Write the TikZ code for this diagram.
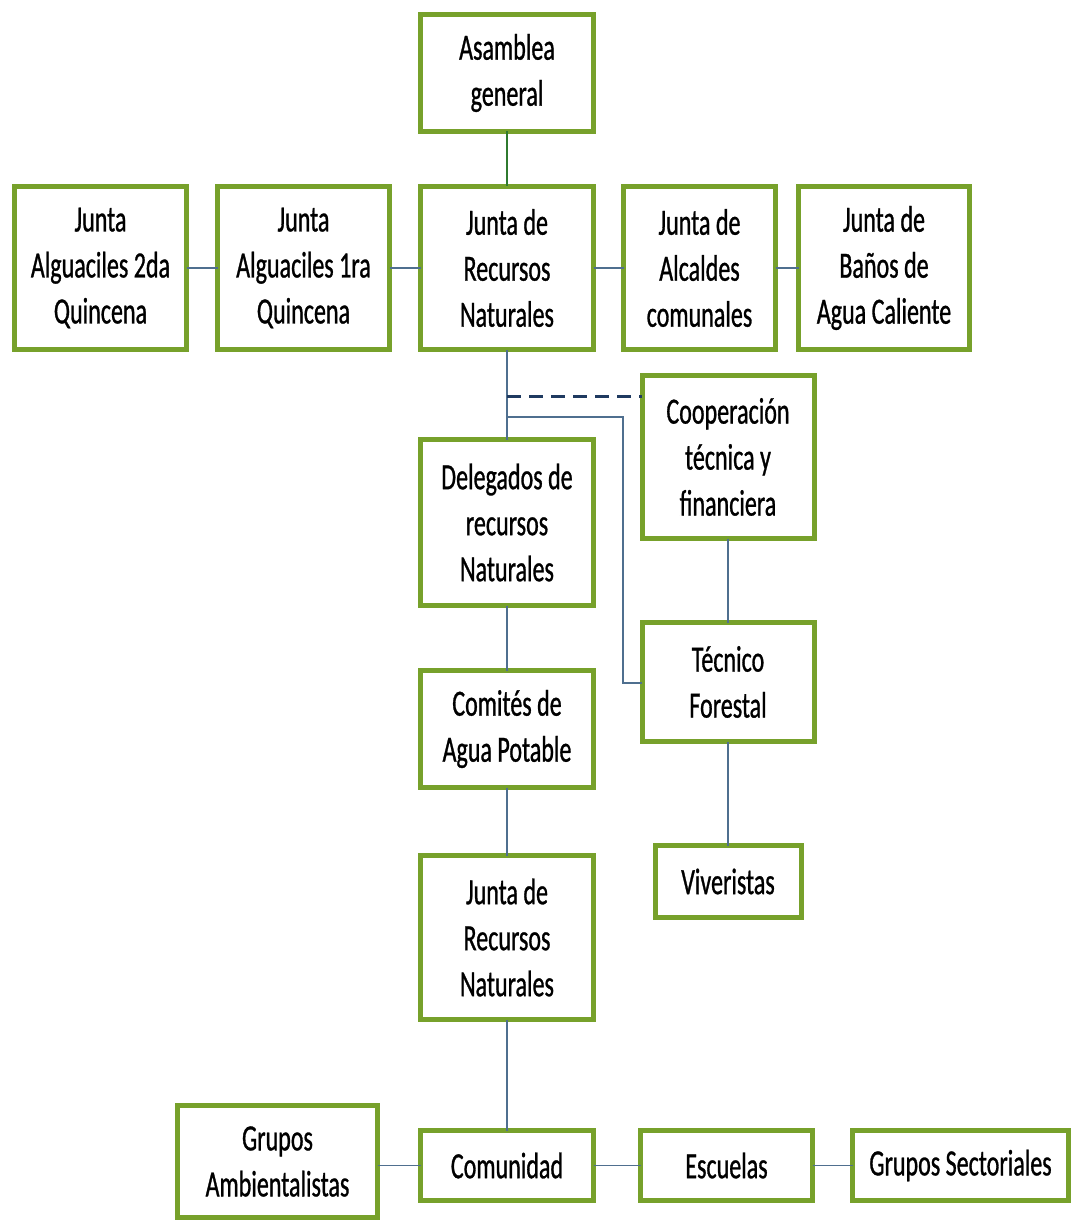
\documentclass[tikz,border=0pt]{standalone}
\usepackage{fontspec}
\setmainfont[FakeStretch=0.65,FakeBold=0.8]{Carlito}
\definecolor{boxgreen}{HTML}{77A12B}
\definecolor{linkblue}{HTML}{4F6F8F}
\definecolor{linkgreen}{HTML}{2F7A2F}
\definecolor{navy}{HTML}{1F3A60}
\tikzset{
  box/.style={draw=boxgreen, line width=5pt, fill=white, inner sep=0pt, outer sep=0pt,
    align=center, font=\fontsize{37}{46}\selectfont},
  link/.style={draw=linkblue, line width=1.8pt},
}
\begin{document}
\begin{tikzpicture}[x=1pt,y=-1pt]
\useasboundingbox (0,0) rectangle (1073,1222);
% nodes
\node[box, minimum width=173pt, minimum height=117pt] (asam) at (507,73) {Asamblea\\general};
\node[box, minimum width=172pt, minimum height=163pt] (ja2) at (100.5,268) {Junta\\Alguaciles 2da\\Quincena};
\node[box, minimum width=172pt, minimum height=163pt] (ja1) at (303.5,268) {Junta\\Alguaciles 1ra\\Quincena};
\node[box, minimum width=173pt, minimum height=163pt] (jrn) at (507,268) {Junta de\\Recursos\\Naturales};
\node[box, minimum width=152pt, minimum height=163pt] (jal) at (699.5,268) {Junta de\\Alcaldes\\comunales};
\node[box, minimum width=171pt, minimum height=163pt] (jba) at (884,268) {Junta de\\Baños de\\Agua Caliente};
\node[box, minimum width=172pt, minimum height=163pt] (coop) at (728,457) {Cooperación\\técnica y\\financiera};
\node[box, minimum width=173pt, minimum height=166pt] (del) at (507,522.5) {Delegados de\\recursos\\Naturales};
\node[box, minimum width=172pt, minimum height=119pt] (tec) at (728,682) {Técnico\\Forestal};
\node[box, minimum width=173pt, minimum height=117pt] (com) at (507,729) {Comités de\\Agua Potable};
\node[box, minimum width=146pt, minimum height=72pt] (viv) at (728,881.5) {Viveristas};
\node[box, minimum width=173pt, minimum height=164pt] (jrn2) at (507,937.5) {Junta de\\Recursos\\Naturales};
\node[box, minimum width=200pt, minimum height=112pt] (gamb) at (277.5,1161.5) {Grupos\\Ambientalistas};
\node[box, minimum width=173pt, minimum height=70pt] (comu) at (507,1165.5) {Comunidad};
\node[box, minimum width=172pt, minimum height=70pt] (esc) at (726.5,1165.5) {Escuelas};
\node[box, minimum width=216pt, minimum height=70pt] (gsec) at (960.5,1165.5) {Grupos Sectoriales};
% connectors
\draw[draw=linkgreen, line width=2pt] (asam.south) -- (jrn.north);
\draw[link] (ja2.east) -- (ja1.west);
\draw[link] (ja1.east) -- (jrn.west);
\draw[link] (jrn.east) -- (jal.west);
\draw[link] (jal.east) -- (jba.west);
\draw[link] (jrn.south) -- (del.north);
\coordinate (dashstart) at (507,396);
\draw[draw=navy, line width=3pt, dash pattern=on 14pt off 8pt] (dashstart) -- (dashstart -| coop.west);
\coordinate (elbow) at (507,417);
\draw[link] (elbow) -- (623,417) -- (623,683) -- (tec.west |- 0,683);
\draw[link] (coop.south) -- (tec.north);
\draw[link] (tec.south) -- (viv.north);
\draw[link] (del.south) -- (com.north);
\draw[link] (com.south) -- (jrn2.north);
\draw[link] (jrn2.south) -- (comu.north);
\draw[link] (gamb.east |- comu.west) -- (comu.west);
\draw[link] (comu.east) -- (esc.west);
\draw[link] (esc.east) -- (gsec.west);
\end{tikzpicture}
\end{document}
